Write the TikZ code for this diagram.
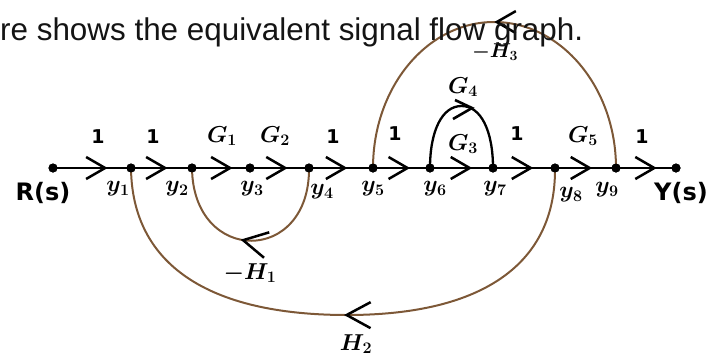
\RequirePackage{fix-cm}
\documentclass[tikz,border=0pt]{standalone}
\usepackage{amsmath}
\usepackage{fontspec}
\newfontfamily\titlefont{Liberation Sans}
\newfontfamily\labfont{DejaVu Sans}
\usetikzlibrary{arrows.meta,decorations.markings,calc}
\definecolor{arcbrown}{RGB}{125,88,55}
\definecolor{titlegray}{RGB}{20,20,20}
\tikzset{
  dot/.style={circle,fill=black,inner sep=0pt,minimum size=9pt},
  mainline/.style={line width=2.5pt,black},
  arcline/.style={line width=2pt,arcbrown},
  domeline/.style={line width=2.3pt,black},
  chevat/.style={postaction={decorate,decoration={markings,
     mark=at position #1 with {\arrow{Straight Barb[length=19pt,width=22pt,line width=2.5pt,color=black]}}}}},
  bigchevat/.style={postaction={decorate,decoration={markings,
     mark=at position #1 with {\arrow{Straight Barb[length=24pt,width=26pt,line width=2.5pt,color=black]}}}}},
  chevron/.style={line width=2.6pt,black,line join=miter},
  onelab/.style={font=\fontsize{19}{19}\selectfont\labfont\bfseries,inner sep=0pt},
  mathlab/.style={font=\fontsize{23}{23}\selectfont,inner sep=0pt},
  sigtext/.style={font=\fontsize{24}{24}\selectfont\labfont\bfseries,inner sep=0pt},
}
\begin{document}
\begin{tikzpicture}[x=1pt,y=-1pt]
\useasboundingbox (0,0) rectangle (710,357);
% nodes
\node[dot] (R)  at (53,168) {};
\node[dot] (y1) at (131,168) {};
\node[dot] (y2) at (192,168) {};
\node[dot] (y3) at (250,168) {};
\node[dot] (y4) at (309,168) {};
\node[dot] (y5) at (373,168) {};
\node[dot] (y6) at (430,168) {};
\node[dot] (y7) at (493,168) {};
\node[dot] (y8) at (555,168) {};
\node[dot] (y9) at (616,168) {};
\node[dot] (Y)  at (676,168) {};
% feedback arcs
\draw[arcline,bigchevat=0.55] (y4.center) .. controls (310,265) and (193,265) .. (y2.center);
\draw[arcline,bigchevat=0.5] (y8.center) .. controls (556,263.6) and (483,315) .. (347,315)
      .. controls (207,315) and (132,263.6) .. (y1.center);
\draw[arcline,chevat=0.5] (y9.center) .. controls (616,87.4) and (561,22) .. (494,22)
      .. controls (427,22) and (373,87.4) .. (y5.center);
% G4 dome
\coordinate (dtop) at (461.5,106);
\coordinate (dtip) at (472,108);
\draw[domeline] (y6.center) .. controls (430,131) and (442,106) .. (dtop)
      .. controls (481,106) and (493,131) .. (y7.center);
\draw[chevron] ($(dtip)+(-17,-8)$) -- (dtip) -- ($(dtip)+(-19,11)$);
% main line
\draw[mainline,chevat=0.70] (R.center) -- (y1.center);
\draw[mainline,chevat=0.60] (y1.center) -- (y2.center);
\draw[mainline,chevat=0.70] (y2.center) -- (y3.center);
\draw[mainline,chevat=0.64] (y3.center) -- (y4.center);
\draw[mainline,chevat=0.60] (y4.center) -- (y5.center);
\draw[mainline,chevat=0.65] (y5.center) -- (y6.center);
\draw[mainline,chevat=0.67] (y6.center) -- (y7.center);
\draw[mainline,chevat=0.65] (y7.center) -- (y8.center);
\draw[mainline,chevat=0.61] (y8.center) -- (y9.center);
\draw[mainline,chevat=0.68] (y9.center) -- (Y.center);
% dots on top
\foreach \n in {R,y1,y2,y3,y4,y5,y6,y7,y8,y9,Y} \fill (\n) circle (4.5pt);
% gain labels
\node[onelab] (g01) at (98,137) {1};
\node[onelab] (g12) at (153,137) {1};
\node[mathlab] (g23) at (222,136) {$\boldsymbol{G_1}$};
\node[mathlab] (g34) at (275,136) {$\boldsymbol{G_2}$};
\node[onelab] (g45) at (333,137) {1};
\node[onelab] (g56) at (395,134) {1};
\node[mathlab] (g67) at (463,144) {$\boldsymbol{G_3}$};
\node[mathlab] (g67b) at (463,87) {$\boldsymbol{G_4}$};
\node[onelab] (g78) at (517,134) {1};
\node[mathlab] (g89) at (583,136) {$\boldsymbol{G_5}$};
\node[onelab] (g9Y) at (642,137) {1};
% node labels
\node[mathlab] (l1) at (118,189) {$\boldsymbol{y_1}$};
\node[mathlab] (l2) at (177,189) {$\boldsymbol{y_2}$};
\node[mathlab] (l3) at (252,189) {$\boldsymbol{y_3}$};
\node[mathlab] (l4) at (322,192) {$\boldsymbol{y_4}$};
\node[mathlab] (l5) at (373,189) {$\boldsymbol{y_5}$};
\node[mathlab] (l6) at (435,189) {$\boldsymbol{y_6}$};
\node[mathlab] (l7) at (495,189) {$\boldsymbol{y_7}$};
\node[mathlab] (l8) at (571,195) {$\boldsymbol{y_8}$};
\node[mathlab] (l9) at (607,190) {$\boldsymbol{y_9}$};
\node[sigtext] (Rs) at (43,193) {R(s)};
\node[sigtext] (Ys) at (681,193) {Y(s)};
% loop labels
\node[mathlab] (h1) at (250,273) {$\boldsymbol{-H_1}$};
\node[mathlab] (h2) at (356,344) {$\boldsymbol{H_2}$};
\node[mathlab,font=\fontsize{20}{20}\selectfont] (h3) at (495,52) {$\boldsymbol{-H_3}$};
% title
\node[anchor=base west,inner sep=0pt,text=titlegray,font=\fontsize{31.4}{31.4}\selectfont\titlefont] (title) at (0,40) {re shows the equivalent signal flow graph.};
\end{tikzpicture}
\end{document}
